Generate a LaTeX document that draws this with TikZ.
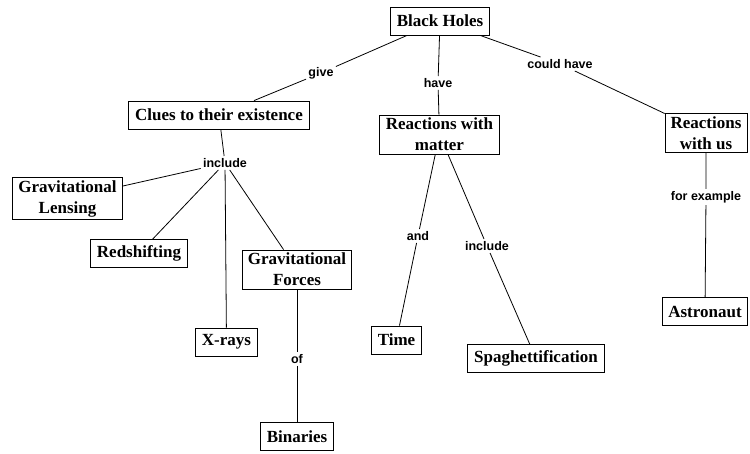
\documentclass[tikz,border=0pt]{standalone}
\usepackage{fontspec}
\setmainfont{Liberation Serif}
\setsansfont{Liberation Sans}
\begin{document}
\begin{tikzpicture}[x=1pt, y=-1pt, line width=0.8pt,
    concept/.style={draw, fill=white, align=center, inner xsep=6.5pt, inner ysep=3pt,
        minimum height=28pt, font=\fontsize{17}{21}\selectfont\bfseries},
    link/.style={inner sep=2pt, font=\sffamily\bfseries\fontsize{12.5}{14}\selectfont}]
        \useasboundingbox (0,0) rectangle (750,454);

        % Top concept
        \node[concept] (bh) at (440,21) {Black Holes};

        % Second level
        \node[concept] (clues) at (219,115) {Clues to their existence};
        \node[concept] (matter) at (439.5,134.5) {Reactions with\\matter};
        \node[concept, inner xsep=5.5pt] (us) at (706,133) {Reactions\\with us};

        % Clues and what they include
        \node[concept, inner xsep=5.5pt] (lensing) at (67.5,198.5) {Gravitational\\Lensing};
        \node[concept] (redshift) at (139,253.5) {Redshifting};
        \node[concept] (xrays) at (226.5,342) {X-rays};
        \node[concept, inner xsep=5.5pt] (forces) at (297,269.5) {Gravitational\\Forces};
        \node[concept] (binaries) at (297,436.5) {Binaries};

        % Reactions
        \node[concept] (time) at (396.5,340) {Time};
        \node[concept] (spag) at (536,358.5) {Spaghettification};
        \node[concept, inner xsep=5.5pt] (astro) at (705,311.5) {Astronaut};

        % Linking phrases
        \node[link] (give) at (321,73) {give};
        \node[link] (have) at (438,83) {have};
        \node[link] (couldhave) at (560,64) {could have};
        \node[link] (include) at (225,163) {include};
        \node[link] (of) at (297,359) {of};
        \node[link] (and) at (418,236) {and};
        \node[link] (include2) at (487,246) {include};
        \node[link] (example) at (706,197) {for example};

        % Connectors
        \draw (bh) -- (give) -- (clues);
        \draw (bh) -- (have) -- (matter);
        \draw (bh) -- (couldhave) -- (us);
        \draw (clues) -- (include);
        \draw (include) -- (lensing);
        \draw (include) -- (redshift);
        \draw (include) -- (xrays);
        \draw (include) -- (forces);
        \draw (forces) -- (of) -- (binaries);
        \draw (matter) -- (and) -- (time);
        \draw (matter) -- (include2) -- (spag);
        \draw (us) -- (example) -- (astro);
    \end{tikzpicture}
\end{document}
